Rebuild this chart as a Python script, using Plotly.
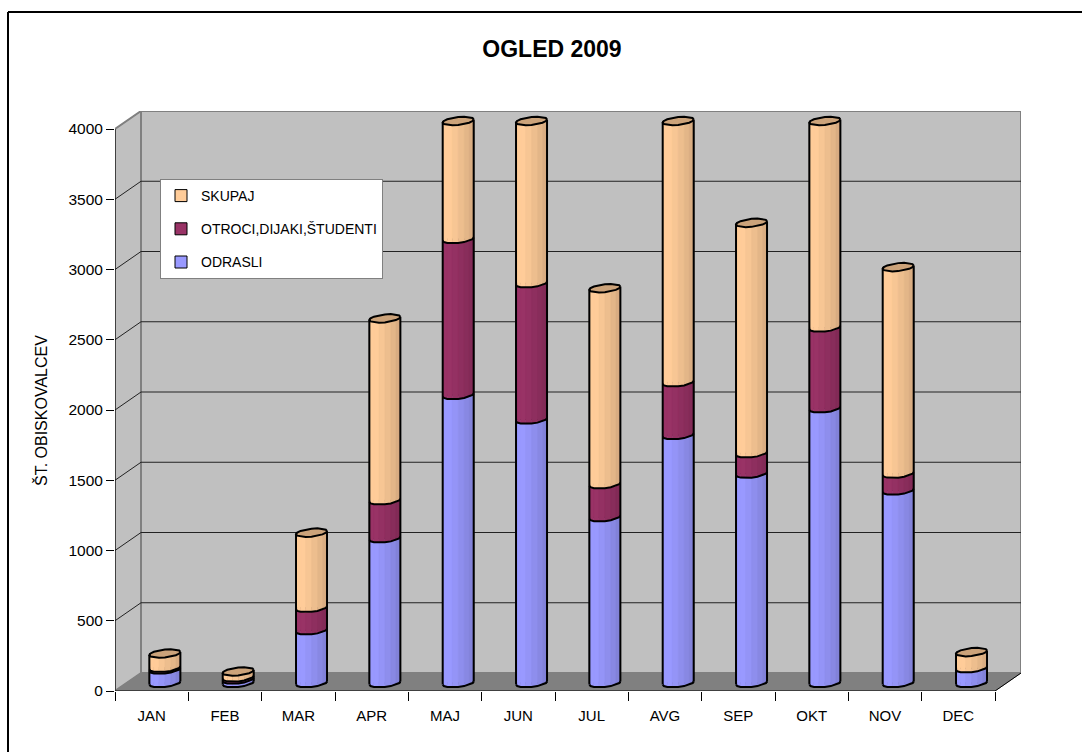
import numpy as np
import plotly.graph_objects as go

months = ["JAN", "FEB", "MAR", "APR", "MAJ", "JUN", "JUL", "AVG", "SEP", "OKT", "NOV", "DEC"]
odrasli = [96, 25, 375, 1030, 2050, 1875, 1180, 1765, 1490, 1955, 1370, 105]
otroci = [12, 15, 160, 270, 1110, 970, 235, 375, 145, 575, 120, 0]
skupaj = [102, 42, 535, 1295, 3160, 2845, 1395, 2140, 1640, 2530, 1470, 115]
yticks = [0, 500, 1000, 1500, 2000, 2500, 3000, 3500, 4000]
Y_MAX = 4000

series = [
    ("ODRASLI", odrasli, (153, 153, 255), 3),
    ("OTROCI,DIJAKI,ŠTUDENTI", otroci, (153, 51, 102), 2),
    ("SKUPAJ", skupaj, (255, 204, 153), 1),
]

# pixel geometry of the oblique 3D frame
L, R, T, B = 115, 1021, 111, 691
DX, DY = 26, 18
PX_X = 880 / 12          # px per category
PX_Y = 562 / Y_MAX       # px per unit
def ux(p): return p / PX_X
def uy(p): return p / PX_Y
x_lo = -0.5
x_hi = x_lo + ux(R - L)
y_hi = uy(B - T)
x_front_end = 11.5
wall_x = x_lo + ux(DX)
wall_y = uy(DY)

fig = go.Figure()
shapes = []
def poly(pts, fill, line=None, w=1):
    d = "M " + " L ".join(f"{a},{b}" for a, b in pts) + " Z"
    shapes.append(dict(type="path", path=d, xref="x", yref="y", layer="below", fillcolor=fill,
                       line=dict(color=line or fill, width=w)))
def seg(a, b, c, d, col, w=1):
    shapes.append(dict(type="line", x0=a, y0=b, x1=c, y1=d, xref="x", yref="y", layer="below",
                       line=dict(color=col, width=w)))

poly([(wall_x, wall_y), (x_hi, wall_y), (x_hi, Y_MAX + wall_y), (wall_x, Y_MAX + wall_y)], "#c0c0c0", "#808080", 2)
poly([(x_lo, 0), (wall_x, wall_y), (wall_x, Y_MAX + wall_y), (x_lo, Y_MAX)], "#c0c0c0", "#808080", 2)
poly([(x_lo, 0), (x_front_end, 0), (x_hi, wall_y), (wall_x, wall_y)], "#808080", "#808080", 1)
for v in yticks[1:-1]:
    seg(wall_x, v + wall_y, x_hi, v + wall_y, "#222222", 1)
    seg(x_lo, v, wall_x, v + wall_y, "#222222", 1)
seg(x_lo, 0, x_front_end, 0, "#000000", 1)
seg(x_front_end, 0, x_hi, wall_y, "#000000", 1)
seg(x_lo, 0, x_lo, Y_MAX, "#000000", 1)
seg(x_lo, Y_MAX, wall_x, Y_MAX + wall_y, "#808080", 1)

# cylinders
A, Bb, TILT = 15.5, 4.0, 1.6
CX, CY = 13.2, 8
N = 8
angles = np.linspace(np.pi, 0, N + 1)
shade = [1.0, 1.0, 1.0, 0.97, 0.93, 0.89, 0.85, 0.81]
def col(rgb, f):
    return "rgb(%d,%d,%d)" % tuple(round(c * f) for c in rgb)

def arc(i, v, ang):
    xs = i + ux(CX + A * np.cos(ang))
    ys = v + uy(CY) - uy(Bb * np.sin(ang) - TILT * np.cos(ang))
    return xs, ys

cum = np.zeros(12)
layers = []
for name, vals, rgb, rank in series:
    vals = np.array(vals, float)
    top = np.minimum(cum + vals, Y_MAX)
    layers.append((name, rgb, rank, cum.copy(), top.copy()))
    cum = cum + vals

xpos = np.arange(12)
for name, rgb, rank, lo, hi in layers:
    fig.add_trace(go.Bar(x=xpos + ux(CX), y=hi - lo, base=lo + uy(CY), width=ux(31), name=name,
                         legendgroup=name, legendrank=rank, customdata=months,
                         marker=dict(color=col(rgb, 1), line=dict(color="#000000", width=1)),
                         hovertemplate="%{customdata}: %{y}<extra>" + name + "</extra>"))

for name, rgb, rank, lo, hi in layers:
    for s in range(N):
        xx, yy = [], []
        for i in range(12):
            if hi[i] <= lo[i]:
                continue
            a0, a1 = angles[s], angles[s + 1]
            x0, y0 = arc(i, lo[i], a0)
            x1, y1 = arc(i, lo[i], a1)
            x2, y2 = arc(i, hi[i], a1)
            x3, y3 = arc(i, hi[i], a0)
            xx += [x0, x1, x2, x3, x0, None]
            yy += [y0, y1, y2, y3, y0, None]
        fig.add_trace(go.Scatter(x=xx, y=yy, mode="lines", fill="toself", fillcolor=col(rgb, shade[s]),
                                 line=dict(width=0.5, color=col(rgb, shade[s])), hoverinfo="skip", showlegend=False))

# outlines
ex, ey, tx, ty = [], [], [], []
full = np.linspace(0, 2 * np.pi, 2 * N + 1)
for name, rgb, rank, lo, hi in layers:
    for i in range(12):
        if hi[i] <= lo[i]:
            continue
        xa, ya = arc(i, lo[i], angles)
        ex += list(xa) + [None]
        ey += list(ya) + [None]
final_top = layers[-1][4]
final_lo = layers[0][3]
for i in range(12):
    xa, ya = arc(i, final_lo[i], np.array([np.pi]))
    xb, yb = arc(i, final_top[i], np.array([np.pi]))
    ex += [xa[0], xb[0], None]
    ey += [ya[0], yb[0], None]
    xa, ya = arc(i, final_lo[i], np.array([0.0]))
    xb, yb = arc(i, final_top[i], np.array([0.0]))
    ex += [xa[0], xb[0], None]
    ey += [ya[0], yb[0], None]
    xc, yc = arc(i, final_top[i], full)
    tx += list(xc) + [None]
    ty += list(yc) + [None]
top_rgb = (204, 163, 122)
fig.add_trace(go.Scatter(x=tx, y=ty, mode="lines", fill="toself", fillcolor=col(top_rgb, 1),
                         line=dict(color="#000000", width=2), hoverinfo="skip", showlegend=False))
fig.add_trace(go.Scatter(x=ex, y=ey, mode="lines", line=dict(color="#000000", width=2),
                         hoverinfo="skip", showlegend=False))

FONT = "Liberation Sans, Arial, sans-serif"
# frame (left and top edges only: it runs off the picture)
def px(p): return (p - L) / (R - L)
def py(p): return (B - p) / (B - T)
shapes.append(dict(type="line", xref="paper", yref="paper", x0=px(8), y0=py(12), x1=px(1082), y1=py(12), line=dict(color="#000", width=2)))
shapes.append(dict(type="line", xref="paper", yref="paper", x0=px(8), y0=py(12), x1=px(8), y1=py(752), line=dict(color="#000", width=2)))

fig.update_layout(
    width=1082, height=752, autosize=False,
    margin=dict(l=L, r=1082 - R, t=T, b=752 - B, pad=0),
    paper_bgcolor="#ffffff", plot_bgcolor="rgba(0,0,0,0)",
    barmode="overlay",
    font=dict(family=FONT, size=15, color="#000000"),
    title=dict(text="<b>OGLED 2009</b>", x=552 / 1082, xanchor="center", y=1 - 49 / 752, yanchor="middle",
               font=dict(size=23, family=FONT, color="#000000")),
    shapes=shapes,
    annotations=[dict(text="ŠT. OBISKOVALCEV", xref="paper", yref="paper", x=px(41), y=py(411),
                      xanchor="center", yanchor="middle", textangle=-90, showarrow=False,
                      font=dict(size=16, family=FONT, color="#000000"))],
    showlegend=True,
    legend=dict(x=px(160), y=py(179), xanchor="left", yanchor="top", bgcolor="#ffffff",
                bordercolor="#808080", borderwidth=1, tracegroupgap=12,
                font=dict(size=14, family=FONT, color="#000000")),
    xaxis=dict(type="linear", range=[x_lo, x_hi], tickmode="array", tickvals=list(range(12)), ticktext=months,
               ticks="outside", ticklen=11, tickcolor="rgba(0,0,0,0)", showgrid=False, zeroline=False, showline=False,
               tickfont=dict(size=15, family=FONT), fixedrange=True,
               minor=dict(tickmode="array", tickvals=[k - 0.5 for k in range(13)], ticks="outside", ticklen=9,
                          tickcolor="#000000", tickwidth=1, showgrid=False)),
    yaxis=dict(range=[0, y_hi], tickmode="array", tickvals=yticks, ticktext=[str(v) for v in yticks],
               ticks="outside", ticklen=8, tickcolor="#000000", tickwidth=1, showgrid=False, zeroline=False, showline=False,
               tickfont=dict(size=15.5, family=FONT), fixedrange=True),
)
fig.write_html("out.html", post_script="document.body.style.margin='0';", config={"displayModeBar": False})
